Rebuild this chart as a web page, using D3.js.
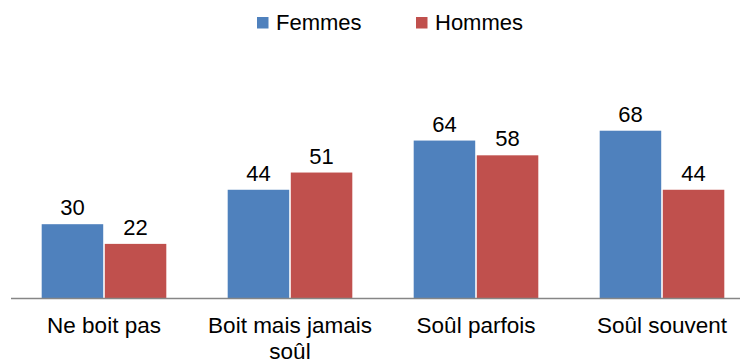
<!DOCTYPE html>
<html>
<head>
<meta charset="utf-8">
<script src="https://cdn.jsdelivr.net/npm/d3@7"></script>
<style>
  html, body { margin: 0; padding: 0; background: #fff; }
  svg { display: block; font-family: "Liberation Sans", Arial, sans-serif; }
</style>
</head>
<body>
<svg id="chart" width="740" height="360"></svg>
<script>
// Consommation d'alcool selon le sexe (%)
const categories = ["Ne boit pas", "Boit mais jamais soûl", "Soûl parfois", "Soûl souvent"];
const seriesNames = ["Femmes", "Hommes"];
const femmes = [30, 44, 64, 68];
const hommes = [22, 51, 58, 44];
const colors = ["#4F81BD", "#C0504D"];

const seriesValues = [femmes, hommes];
const svg = d3.select("#chart");

const plot = { left: 11, right: 755, top: 52, bottom: 298 };

const x = d3.scaleBand()
  .domain(categories)
  .range([plot.left, plot.right])
  .paddingInner(0)
  .paddingOuter(0);

const groupPad = 0.165;
const x1 = d3.scaleBand()
  .domain(seriesNames)
  .range([x.bandwidth() * groupPad, x.bandwidth() * (1 - groupPad)])
  .paddingInner(0.025);

const y = d3.scaleLinear().domain([0, 100]).range([plot.bottom, plot.top]);

// Bars
const groups = svg.append("g")
  .selectAll("g")
  .data(categories)
  .join("g")
  .attr("transform", d => `translate(${x(d)},0)`);

groups.selectAll("rect")
  .data((d, i) => seriesNames.map((s, k) => ({ s, v: seriesValues[k][i], k })))
  .join("rect")
  .attr("x", d => x1(d.s))
  .attr("y", d => y(d.v))
  .attr("width", x1.bandwidth())
  .attr("height", d => y(0) - y(d.v))
  .attr("fill", d => colors[d.k]);

// Value labels
groups.selectAll("text.val")
  .data((d, i) => seriesNames.map((s, k) => ({ s, v: seriesValues[k][i] })))
  .join("text")
  .attr("class", "val")
  .attr("x", d => x1(d.s) + x1.bandwidth() / 2)
  .attr("y", d => y(d.v) - 9)
  .attr("text-anchor", "middle")
  .attr("font-size", 22)
  .attr("fill", "#000")
  .text(d => d.v);

// X axis
const xAxis = d3.axisBottom(x).tickSize(0).tickPadding(0);
const axisG = svg.append("g")
  .attr("transform", `translate(0,${plot.bottom})`)
  .call(xAxis);
axisG.select(".domain").attr("stroke", "#868686").attr("stroke-width", 1.3)
  .attr("d", `M${plot.left},0.5H${plot.right}`);
axisG.selectAll(".tick text").remove();

// Category labels, wrapped to the band width
const maxW = 180;
axisG.selectAll(".tick").each(function(d) {
  const g = d3.select(this);
  const t = g.append("text")
    .attr("text-anchor", "middle")
    .attr("font-size", 22.5)
    .attr("fill", "#000")
    .attr("y", 35);
  const words = d.split(" ");
  let line = [];
  let tspan = t.append("tspan").attr("x", 0).attr("dy", 0);
  words.forEach(w => {
    line.push(w);
    tspan.text(line.join(" "));
    if (tspan.node().getComputedTextLength() > maxW && line.length > 1) {
      line.pop();
      tspan.text(line.join(" "));
      line = [w];
      tspan = t.append("tspan").attr("x", 0).attr("dy", 26).text(w);
    }
  });
});

// Legend
const legend = svg.append("g");
const legendX = [257, 416];
seriesNames.forEach((s, k) => {
  const lg = legend.append("g").attr("transform", `translate(${legendX[k]},17)`);
  lg.append("rect").attr("width", 11.5).attr("height", 11.5).attr("fill", colors[k]);
  lg.append("text").attr("x", 19).attr("y", 12.5).attr("font-size", 22).attr("fill", "#000").text(s);
});
</script>
</body>
</html>
